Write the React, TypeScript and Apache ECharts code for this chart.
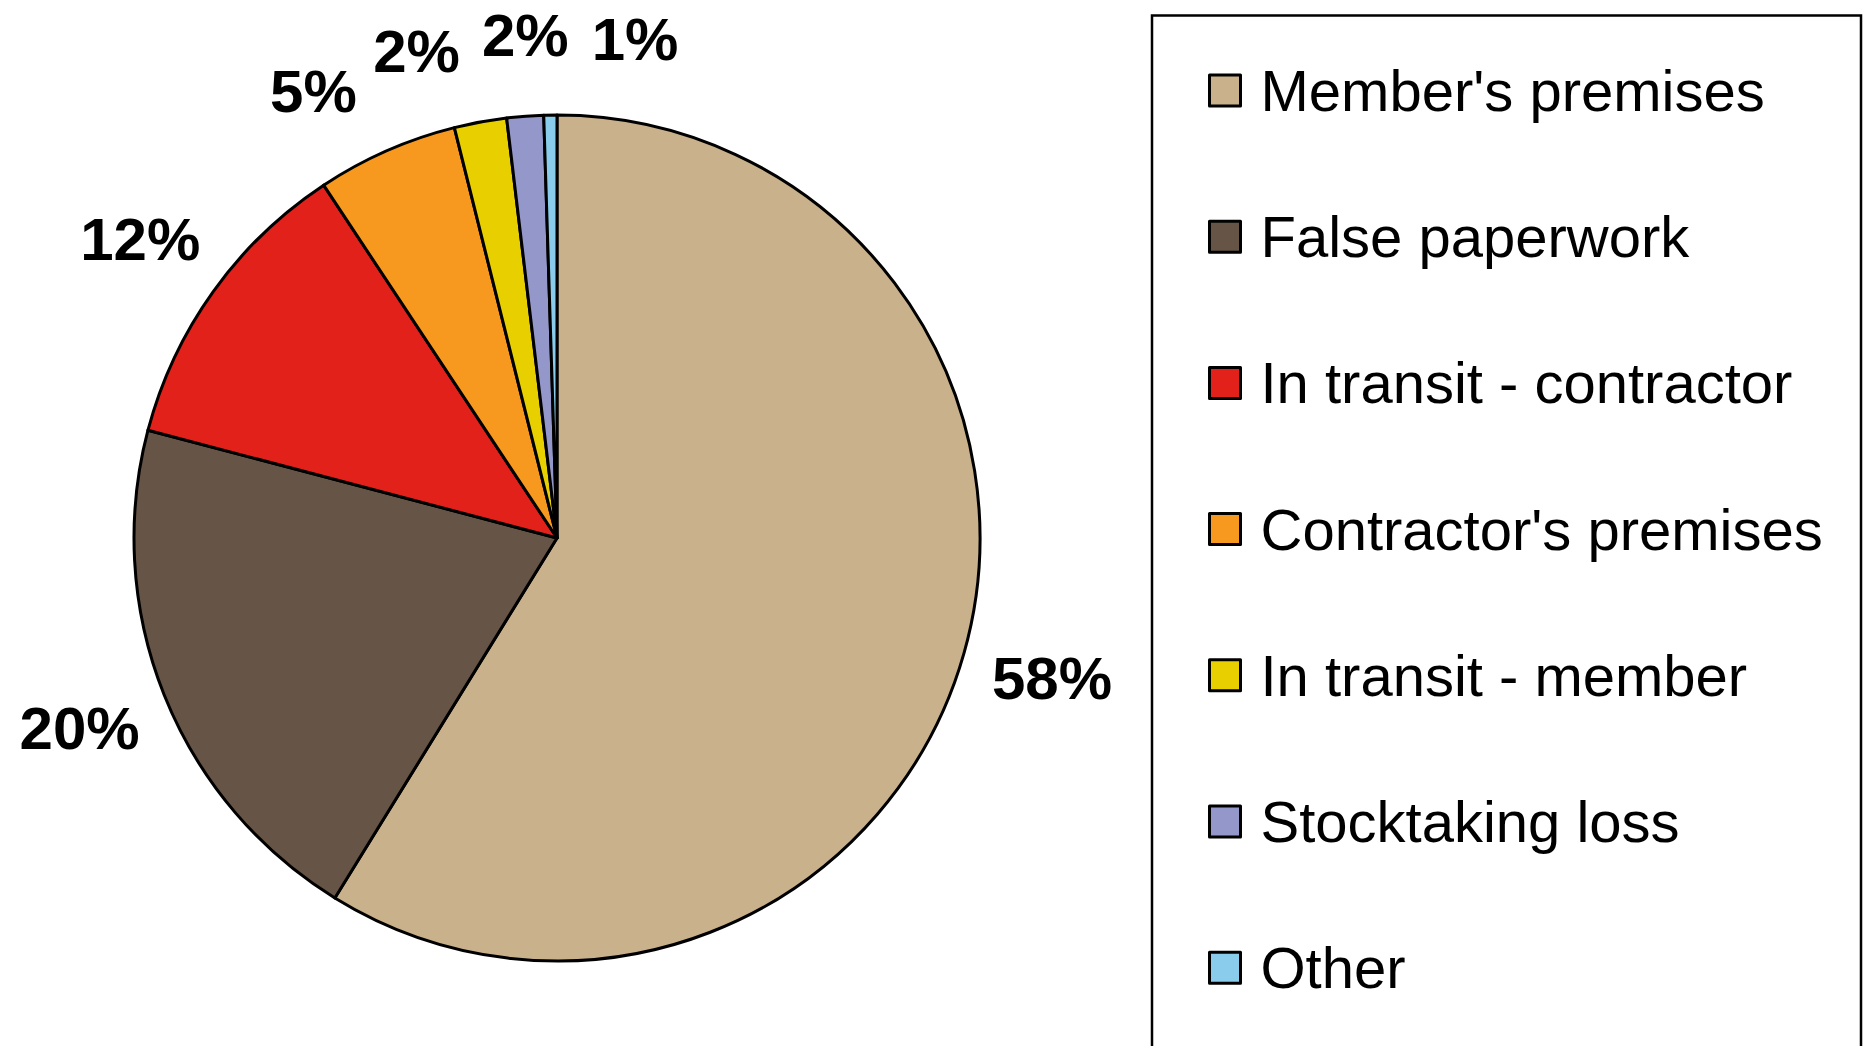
import React, { useEffect, useRef } from "react";
import * as echarts from "echarts";

const categories = [
  "Member's premises",
  "False paperwork",
  "In transit - contractor",
  "Contractor's premises",
  "In transit - member",
  "Stocktaking loss",
  "Other",
];
const shares = [58.8, 20.3, 11.6, 5.4, 2.0, 1.4, 0.5];
const percentLabels = ["58%", "20%", "12%", "5%", "2%", "2%", "1%"];
const colors = ["#C8B18B", "#665546", "#E2211B", "#F7991F", "#E8D000", "#9497C9", "#89CCEB"];

const W = 1868;
const H = 1046;
const CX = 557;
const CY = 538;
const RADIUS = 423;
const LABEL_GAP = 80;
const LABEL_GAP_SIDE = 12;
const MIN_GAP_DEG = 12.5;

function labelAngles(): number[] {
  const total = shares.reduce((a, b) => a + b, 0);
  let acc = 0;
  const a = shares.map((v) => {
    const m = ((acc + v / 2) / total) * 360;
    acc += v;
    return m;
  });
  for (let it = 0; it < 1000; it++) {
    let moved = false;
    for (let i = 0; i < a.length - 1; i++) {
      const d = a[i + 1] - a[i];
      if (d < MIN_GAP_DEG - 1e-6) {
        const p = (MIN_GAP_DEG - d) / 2;
        a[i] -= p;
        a[i + 1] += p;
        moved = true;
      }
    }
    if (!moved) break;
  }
  return a;
}

export default function App() {
  const ref = useRef<HTMLDivElement>(null);
  useEffect(() => {
    document.body.style.margin = "0";
    if (!ref.current) return;
    const chart = echarts.init(ref.current, undefined, { renderer: "svg" });
    const angles = labelAngles();
    chart.setOption({
      animation: false,
      backgroundColor: "#ffffff",
      graphic: [
        {
          type: "rect",
          shape: { x: 1152, y: 15.5, width: 709, height: 1100 },
          style: { fill: "none", stroke: "#000", lineWidth: 2.5 },
          z: -1,
          silent: true,
        },
      ],
      legend: {
        orient: "vertical",
        left: 1208,
        top: 61.5,
        padding: 0,
        itemGap: 88.2,
        itemWidth: 31,
        itemHeight: 31,
        icon: "rect",
        selectedMode: false,
        data: categories,
        itemStyle: { borderColor: "#000", borderWidth: 3 },
        textStyle: {
          fontSize: 58,
          lineHeight: 58,
          fontFamily: "'Liberation Sans', Arial, sans-serif",
          color: "#000",
          padding: [0, 0, 0, 15],
        },
      },
      series: [
        {
          type: "pie",
          center: [CX, CY],
          radius: RADIUS,
          startAngle: 90,
          clockwise: true,
          avoidLabelOverlap: false,
          silent: true,
          emphasis: { disabled: true },
          itemStyle: { borderColor: "#000", borderWidth: 3 },
          label: {
            show: true,
            position: "outside",
            formatter: (p: any) => percentLabels[p.dataIndex],
            fontSize: 60,
            lineHeight: 60,
            fontWeight: "bold",
            fontFamily: "'Liberation Sans', Arial, sans-serif",
            color: "#000",
          },
          labelLine: { show: false },
          labelLayout: (params: any) => {
            const ang = (angles[params.dataIndex] * Math.PI) / 180;
            const dx = Math.sin(ang);
            const dy = -Math.cos(ang);
            const dist = RADIUS + LABEL_GAP + LABEL_GAP_SIDE * Math.abs(dx);
            return {
              x: CX + dist * dx,
              y: CY + dist * dy,
              align: "center",
              verticalAlign: "middle",
            };
          },
          data: categories.map((name, i) => ({
            name,
            value: shares[i],
            itemStyle: { color: colors[i] },
          })),
        },
      ],
    });
    return () => chart.dispose();
  }, []);
  return <div ref={ref} style={{ width: W, height: H }} />;
}
